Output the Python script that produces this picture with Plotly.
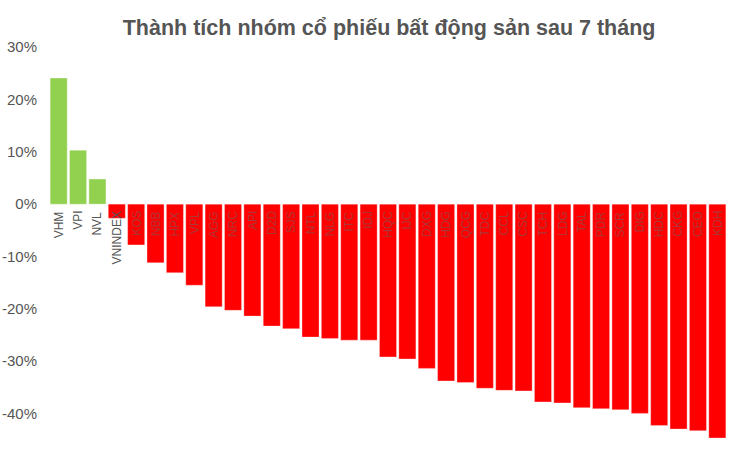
import plotly.graph_objects as go

# data
tickers = ["VHM", "VPI", "NVL", "VNINDEX", "KOS", "NBB", "HPX", "VPL", "AGG", "NRC",
           "API", "D2D", "SJS", "NTL", "NLG", "ITC", "IDJ", "HQC", "IJC", "DXG",
           "HDG", "QCG", "TDC", "CCL", "CSC", "TCH", "LDG", "TAL", "PDR", "SCR",
           "DIG", "HDC", "CKG", "CEO", "KDH"]
change_pct = [24.1, 10.3, 4.8, -2.7, -7.8, -11.2, -13.1, -15.5, -19.6, -20.3,
              -21.4, -23.3, -23.8, -25.4, -25.7, -26.0, -26.0, -29.2, -29.6, -31.4,
              -33.8, -34.1, -35.2, -35.6, -35.7, -37.8, -38.0, -38.9, -39.1, -39.3,
              -40.0, -42.3, -43.0, -43.3, -44.7]
y_ticks = [30, 20, 10, 0, -10, -20, -30, -40]

GREEN = "#92d050"
RED = "#ff0000"

bar_colors = [GREEN if v >= 0 else RED for v in change_pct]

fig = go.Figure()
fig.add_trace(go.Bar(
    x=tickers,
    y=change_pct,
    marker=dict(color=bar_colors, line=dict(color="rgba(255,255,255,0.6)", width=0.5)),
    hovertemplate="%{x}: %{y:.1f}%<extra></extra>",
))

# ticker labels hang just under the zero line, rotated
for name, v in zip(tickers, change_pct):
    on_red = v < 0 and name != "VNINDEX"
    fig.add_annotation(
        x=name, y=0, xref="x", yref="y",
        text=name, textangle=-90, showarrow=False,
        yanchor="top", yshift=-5,
        font=dict(size=12, color="rgba(100,100,100,0.55)" if on_red else "#555555"),
    )

fig.update_layout(
    width=730, height=456,
    margin=dict(l=49, r=3, t=42, b=6),
    paper_bgcolor="white",
    plot_bgcolor="white",
    bargap=0.12,
    showlegend=False,
    font=dict(family="Liberation Sans, Arial, sans-serif", color="#555555"),
    title=dict(
        text="<b>Thành tích nhóm cổ phiếu bất động sản sau 7 tháng</b>",
        x=0.533, xanchor="center", y=0.94, yanchor="middle",
        font=dict(size=21.5, color="#555555"),
    ),
)
fig.update_xaxes(showticklabels=False, showgrid=False, zeroline=False, showline=False)
fig.update_yaxes(
    range=[-47, 31],
    tickvals=y_ticks,
    ticktext=[f"{t}%" for t in y_ticks],
    tickfont=dict(size=15, color="#555555"),
    ticks="outside", ticklen=8, tickcolor="white",
    automargin=False,
    showgrid=False, zeroline=False, showline=False,
)

# page body has a default 8px margin; drop it so the figure fills the window
fig.write_html("out.html", config={"displayModeBar": False},
               post_script="document.body.style.margin='0';")
